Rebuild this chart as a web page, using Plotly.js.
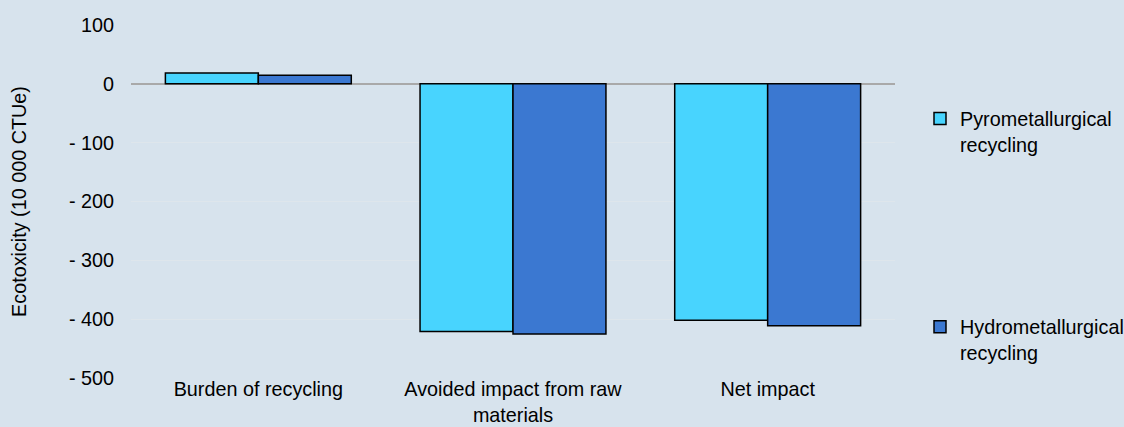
<!DOCTYPE html>
<html>
<head>
<meta charset="utf-8">
<script src="https://cdn.plot.ly/plotly-3.0.1.min.js"></script>
<style>html,body{margin:0;padding:0;background:#d7e3ed;}</style>
</head>
<body>
<div id="chart" style="width:1124px;height:427px;"></div>
<script>
const categories = ["Burden of recycling", "Avoided impact from raw<br>materials", "Net impact"];
const pyroValues = [18.5, -421, -402];
const hydroValues = [14.5, -425, -411];
const seriesNames = ["Pyrometallurgical<br>recycling", "Hydrometallurgical<br>recycling"];
const yTickVals = [100, 0, -100, -200, -300, -400, -500];
const yTickText = ["100", "0", "- 100", "- 200", "- 300", "- 400", "- 500"];
const yTitle = "Ecotoxicity (10 000 CTUe)";

const font = {family: "Liberation Sans, Arial, sans-serif", size: 19.8, color: "#000000"};

const traces = [
  {type: "bar", x: categories, y: pyroValues, name: seriesNames[0],
   marker: {color: "#48d4fe", line: {color: "#000000", width: 1.5}}, legend: "legend"},
  {type: "bar", x: categories, y: hydroValues, name: seriesNames[1],
   marker: {color: "#3b78d1", line: {color: "#000000", width: 1.5}}, legend: "legend2"}
];

const layout = {
  width: 1124, height: 427,
  paper_bgcolor: "#d7e3ed", plot_bgcolor: "#d7e3ed",
  margin: {l: 131, r: 229, t: 25, b: 49},
  font: font,
  barmode: "group", bargap: 0.27, bargroupgap: 0,
  showlegend: true,
  xaxis: {showgrid: false, showline: false, ticks: "", tickfont: font, automargin: false,
          ticklabelstandoff: -3},
  yaxis: {range: [-500, 100], tickvals: yTickVals, ticktext: yTickText, tickfont: font,
          showgrid: true, gridcolor: "#dee6ec", gridwidth: 1,
          zeroline: true, zerolinecolor: "#a9a9a9", zerolinewidth: 2,
          showline: false, ticks: "", automargin: false, ticklabelstandoff: 16,
          title: {text: yTitle, font: font, standoff: 36}},
  legend: {xref: "container", x: 920 / 1124, xanchor: "left", y: 0.79, yanchor: "top",
           bgcolor: "rgba(0,0,0,0)", font: font, itemwidth: 30, tracegroupgap: 0, valign: "top"},
  legend2: {xref: "container", x: 920 / 1124, xanchor: "left", y: 0.2, yanchor: "top",
           bgcolor: "rgba(0,0,0,0)", font: font, itemwidth: 30, tracegroupgap: 0, valign: "top"}
};

Plotly.newPlot("chart", traces, layout, {displayModeBar: false, staticPlot: true});
</script>
</body>
</html>
